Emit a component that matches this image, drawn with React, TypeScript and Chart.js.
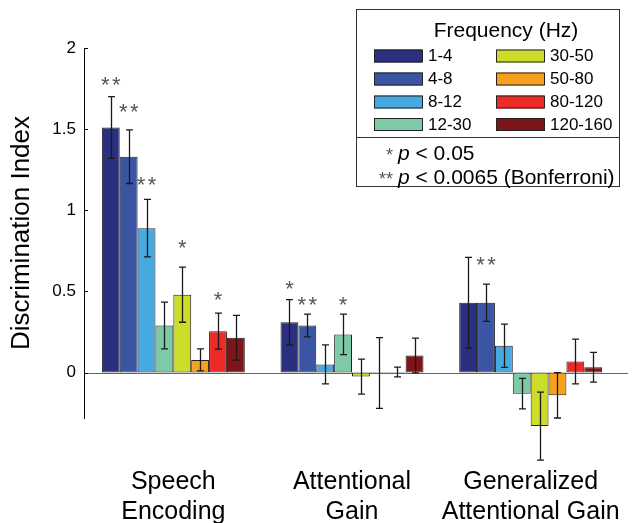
import React, { useEffect, useRef } from "react";
import { Chart, registerables } from "chart.js";

Chart.register(...registerables);

const categories = [["Speech", "Encoding"], ["Attentional", "Gain"], ["Generalized", "Attentional Gain"]];
const bands = ["1-4", "4-8", "8-12", "12-30", "30-50", "50-80", "80-120", "120-160"];
const bandColors = ["#2B2F7F", "#3B55A5", "#46A9DF", "#7ECAA7", "#CDDB29", "#F6A11E", "#EC2A27", "#7E1518"];

// values[band] = [Speech Encoding, Attentional Gain, Generalized Attentional Gain]
const values = [
  [1.51, 0.31, 0.43],
  [1.33, 0.29, 0.43],
  [0.89, 0.05, 0.165],
  [0.29, 0.235, -0.13],
  [0.48, -0.025, -0.33],
  [0.078, -0.003, -0.14],
  [0.255, 0.004, 0.068],
  [0.215, 0.105, 0.033],
];
const errors = [
  [0.19, 0.14, 0.28],
  [0.165, 0.07, 0.115],
  [0.177, 0.12, 0.133],
  [0.144, 0.125, 0.094],
  [0.17, 0.108, 0.21],
  [0.068, 0.218, 0.14],
  [0.111, 0.03, 0.138],
  [0.138, 0.107, 0.092],
];
const stars = [
  ["**", "*", ""],
  ["**", "**", "**"],
  ["**", "", ""],
  ["", "*", ""],
  ["*", "", ""],
  ["", "", ""],
  ["*", "", ""],
  ["", "", ""],
];
const starLevels = [
  [1.81, 0.55, 0],
  [1.64, 0.45, 0.7],
  [1.19, 0, 0],
  [0, 0.45, 0],
  [0.8, 0, 0],
  [0, 0, 0],
  [0.48, 0, 0],
  [0, 0, 0],
];
const yTicks = [0, 0.5, 1, 1.5, 2];
const legendTitle = "Frequency (Hz)";

const FONT = "'Liberation Sans', Arial, Helvetica, sans-serif";

const decorPlugin = {
  id: "decor",
  beforeDatasetsDraw(chart: any) {
    const { ctx, chartArea, scales } = chart;
    const y0 = Math.round(scales.y.getPixelForValue(0)) + 0.5;
    ctx.save();
    ctx.strokeStyle = "#666";
    ctx.lineWidth = 1;
    ctx.beginPath();
    ctx.moveTo(chartArea.left, y0);
    ctx.lineTo(chartArea.right + 8, y0);
    ctx.stroke();
    ctx.strokeStyle = "#000";
    yTicks.forEach((t) => {
      const py = Math.round(scales.y.getPixelForValue(t)) + 0.5;
      ctx.beginPath();
      ctx.moveTo(chartArea.left, py);
      ctx.lineTo(chartArea.left + 4, py);
      ctx.stroke();
    });
    ctx.restore();
  },
  afterDatasetsDraw(chart: any) {
    const { ctx, scales } = chart;
    ctx.save();
    chart.data.datasets.forEach((ds: any, di: number) => {
      const meta = chart.getDatasetMeta(di);
      meta.data.forEach((bar: any, i: number) => {
        const v = values[di][i];
        const e = errors[di][i];
        const x = Math.round(bar.x) + 0.5;
        const yt = scales.y.getPixelForValue(v + e);
        const yb = scales.y.getPixelForValue(v - e);
        ctx.strokeStyle = "#1a1a1a";
        ctx.lineWidth = 1.3;
        ctx.beginPath();
        ctx.moveTo(x, yt);
        ctx.lineTo(x, yb);
        ctx.moveTo(x - 3.5, yt);
        ctx.lineTo(x + 3.5, yt);
        ctx.moveTo(x - 3.5, yb);
        ctx.lineTo(x + 3.5, yb);
        ctx.stroke();
        const s = stars[di][i];
        if (s) {
          const yc = scales.y.getPixelForValue(starLevels[di][i]);
          ctx.fillStyle = "#555";
          ctx.font = `22px ${FONT}`;
          ctx.textAlign = "center";
          ctx.textBaseline = "alphabetic";
          const base = yc + 0.58 * 22;
          if (s === "**") {
            ctx.fillText("*", bar.x - 5.5, base);
            ctx.fillText("*", bar.x + 5.5, base);
          } else {
            ctx.fillText("*", bar.x, base);
          }
        }
      });
    });
    ctx.restore();
  },
  afterDraw(chart: any) {
    const { ctx } = chart;
    ctx.save();
    ctx.strokeStyle = "#333";
    ctx.lineWidth = 1;
    ctx.strokeRect(356.5, 9.5, 263, 177);
    ctx.beginPath();
    ctx.moveTo(356.5, 137.5);
    ctx.lineTo(619.5, 137.5);
    ctx.stroke();
    ctx.fillStyle = "#000";
    ctx.font = `21px ${FONT}`;
    ctx.textAlign = "center";
    ctx.textBaseline = "alphabetic";
    ctx.fillText(legendTitle, 506, 37);
    ctx.font = `17px ${FONT}`;
    ctx.textAlign = "left";
    ctx.textBaseline = "middle";
    const rowY = [55.5, 78.5, 101.5, 124];
    bands.forEach((b, i) => {
      const col = Math.floor(i / 4);
      const row = i % 4;
      const sx = col === 0 ? 374 : 496;
      const sy = rowY[row];
      ctx.fillStyle = bandColors[i];
      ctx.fillRect(sx, sy - 6, 48, 13);
      ctx.strokeStyle = "#222";
      ctx.strokeRect(sx + 0.5, sy - 5.5, 48, 12);
      ctx.fillStyle = "#000";
      ctx.fillText(b, sx + 54, sy + 1);
    });
    ctx.textBaseline = "alphabetic";
    const drawNote = (st: string, rest: string, y: number) => {
      const px = 398;
      ctx.fillStyle = "#555";
      ctx.font = `18px ${FONT}`;
      ctx.textAlign = "right";
      ctx.fillText(st, px - 5, y + 1);
      ctx.fillStyle = "#000";
      ctx.textAlign = "left";
      ctx.font = `italic 21px ${FONT}`;
      ctx.fillText("p", px, y);
      const w = ctx.measureText("p").width;
      ctx.font = `21px ${FONT}`;
      ctx.fillText(rest, px + w, y);
    };
    drawNote("*", " < 0.05", 160);
    drawNote("**", " < 0.0065 (Bonferroni)", 184);
    ctx.restore();
  },
};

export default function App() {
  const ref = useRef<HTMLCanvasElement | null>(null);
  useEffect(() => {
    if (!ref.current) return;
    const chart = new Chart(ref.current, {
      type: "bar",
      data: {
        labels: categories,
        datasets: bands.map((b, i) => ({
          label: b,
          data: values[i],
          backgroundColor: bandColors[i],
          borderColor: "#222",
          borderWidth: 1,
          borderSkipped: false,
          barPercentage: 1,
          categoryPercentage: 0.8,
          clip: false,
        })),
      },
      options: {
        animation: false,
        responsive: false,
        maintainAspectRatio: false,
        layout: { padding: { top: 48, right: 16, left: 0, bottom: 0 } },
        plugins: { legend: { display: false }, tooltip: { enabled: false } },
        scales: {
          x: {
            grid: { display: false },
            border: { display: false },
            ticks: { color: "#000", font: { size: 25, family: FONT, lineHeight: 1.2 }, padding: 41, maxRotation: 0, autoSkip: false },
            afterFit: (s: any) => { s.height = 105; s.paddingLeft = 0; s.paddingRight = 0; },
          },
          y: {
            min: -0.28,
            max: 2,
            grid: { display: false, drawTicks: false },
            border: { display: true, color: "#000", width: 1 },
            afterBuildTicks: (s: any) => { s.ticks = yTicks.map((v) => ({ value: v })); },
            ticks: { color: "#000", font: { size: 17, family: FONT }, padding: 8, callback: (v: any) => String(v) },
            title: { display: true, text: "Discrimination Index", color: "#000", font: { size: 26, family: FONT }, padding: { top: 6, bottom: 0 } },
            afterFit: (s: any) => { s.width = 84; s.paddingTop = 0; s.paddingBottom = 0; },
          },
        },
      },
      plugins: [decorPlugin],
    });
    return () => chart.destroy();
  }, []);
  return (
    <div style={{ position: "absolute", left: 0, top: 0, width: 636, height: 523, background: "#fff" }}>
      <canvas ref={ref} width={636} height={523} />
    </div>
  );
}
